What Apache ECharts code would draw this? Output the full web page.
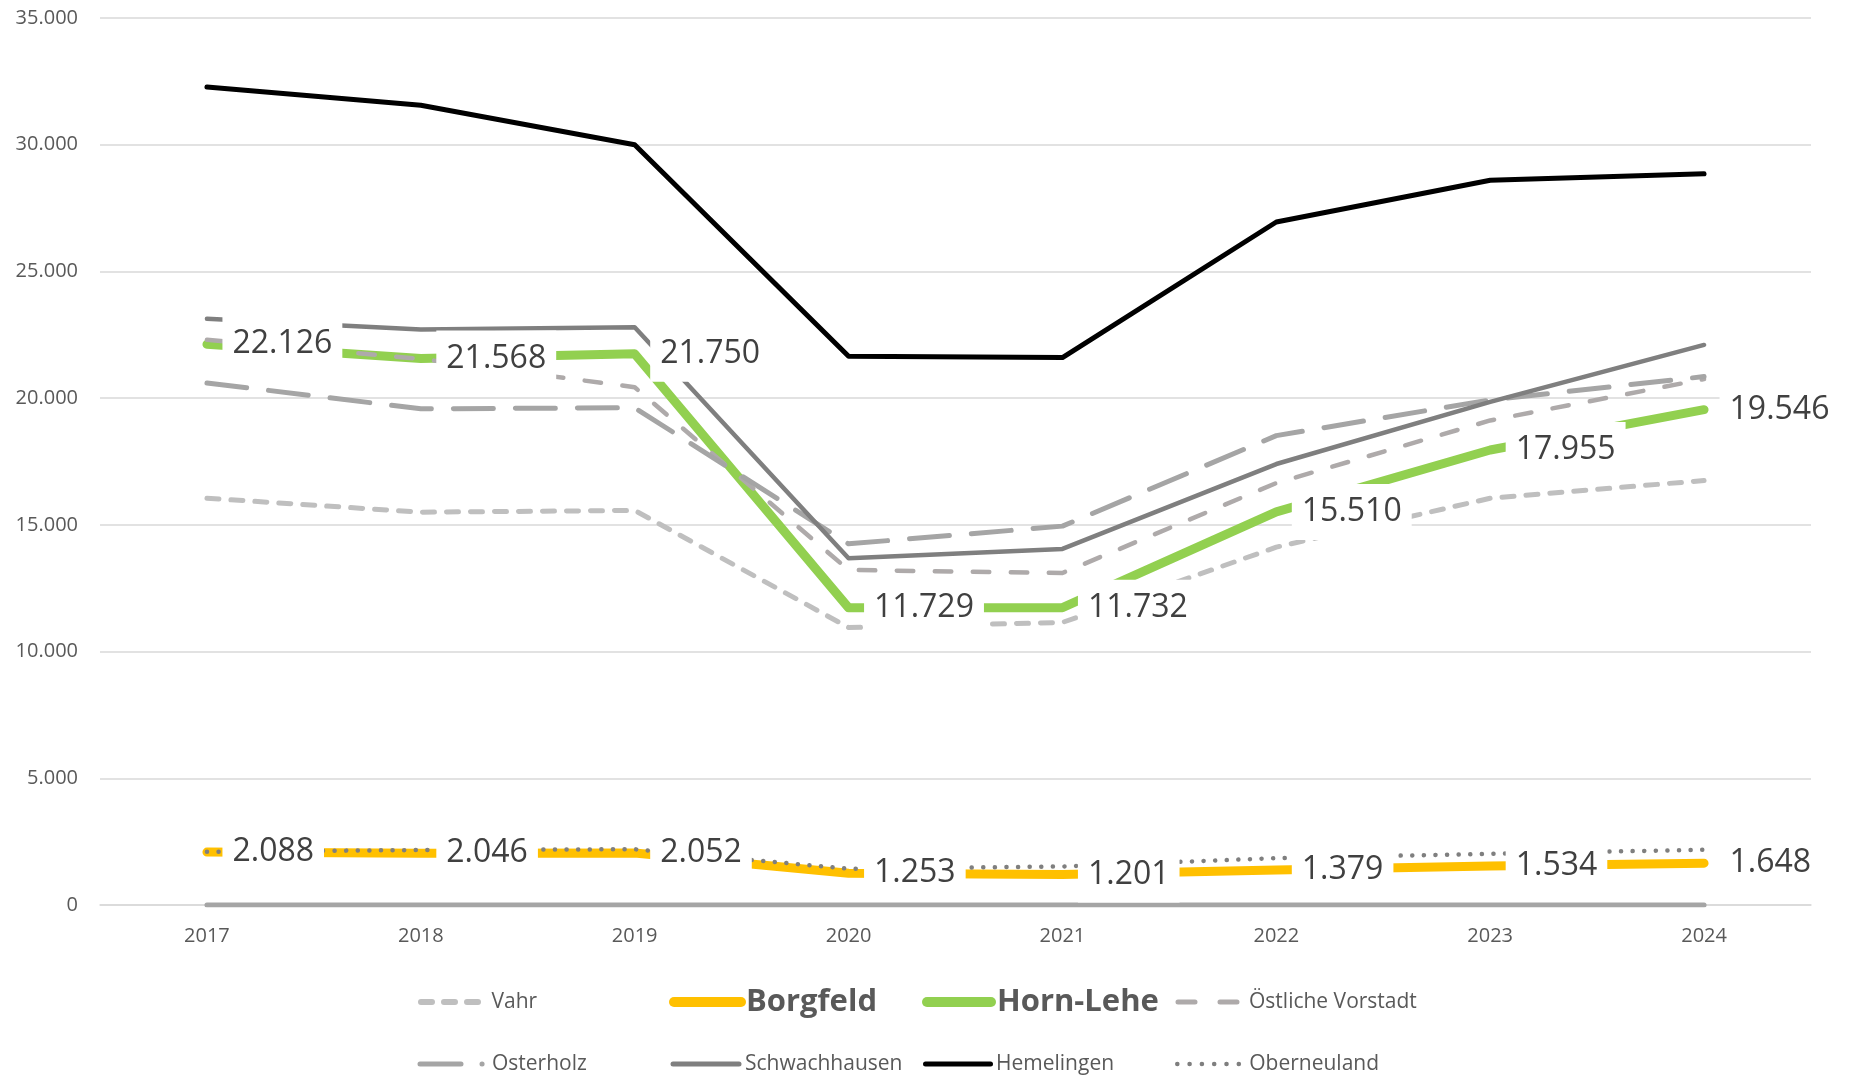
<!DOCTYPE html>
<html>
<head>
<meta charset="utf-8">
<script src="https://cdn.jsdelivr.net/npm/echarts@6/dist/echarts.min.js"></script>
<style>
html,body{margin:0;padding:0;background:#ffffff;}
#chart{width:1850px;height:1076px;}
</style>
</head>
<body>
<div id="chart"></div>
<script>
// ---------- data ----------
const years = ['2017', '2018', '2019', '2020', '2021', '2022', '2023', '2024'];
const vahr = [16050, 15500, 15570, 10950, 11150, 14120, 16050, 16750];
const borgfeld = [2088, 2046, 2052, 1253, 1201, 1379, 1534, 1648];
const hornLehe = [22126, 21568, 21750, 11729, 11732, 15510, 17955, 19546];
const oestlicheVorstadt = [22300, 21550, 20430, 13220, 13100, 16650, 19120, 20750];
const osterholz = [20600, 19580, 19620, 14250, 14950, 18520, 19930, 20850];
const schwachhausen = [23130, 22710, 22800, 13680, 14050, 17400, 19850, 22100];
const hemelingen = [32280, 31560, 30000, 21650, 21600, 26950, 28600, 28850];
const oberneuland = [2100, 2170, 2200, 1430, 1520, 1850, 2020, 2180];
const baseline = [0, 0, 0, 0, 0, 0, 0, 0];
const yMin = 0, yMax = 35000, yStep = 5000;

// ---------- helpers ----------
const FONT = "'Open Sans', 'Noto Sans', sans-serif";
function fmt(v) {
  return String(Math.round(v)).replace(/\B(?=(\d{3})+(?!\d))/g, '.');
}

function lineSeries(name, data, color, width, type, cap) {
  return {
    name: name, type: 'line', data: data,
    symbol: 'none', silent: true, animation: false,
    emphasis: { disabled: true },
    lineStyle: { color: color, width: width, type: type || 'solid', cap: cap || 'round', join: 'round' },
    itemStyle: { color: color }
  };
}

function labelSeries(name, data) {
  return {
    name: name, type: 'line', data: data, z: 10,
    silent: true, animation: false,
    emphasis: { disabled: true },
    symbol: 'circle', symbolSize: 1,
    itemStyle: { color: 'rgba(0,0,0,0)' },
    lineStyle: { width: 0, opacity: 0 },
    labelLayout: { hideOverlap: false },
    label: {
      show: true, position: 'right', distance: 15,
      formatter: function (p) { return fmt(p.value); },
      fontFamily: FONT, fontSize: 32, color: '#404040',
      backgroundColor: '#ffffff', padding: [10, 10], lineHeight: 36
    }
  };
}

function legendItem(name, left, top, itemWidth, textPad, lineStyle, textStyle) {
  return {
    data: [name], left: left, top: top, padding: 0,
    itemWidth: itemWidth, itemHeight: 14, selectedMode: false,
    itemStyle: { opacity: 0 },
    lineStyle: lineStyle,
    textStyle: Object.assign({
      fontFamily: FONT, fontSize: 21, color: '#595959', lineHeight: 30,
      padding: [0, 0, 0, textPad]
    }, textStyle || {})
  };
}

const bold = { fontSize: 31, fontWeight: 'bold', lineHeight: 40 };

// ---------- chart ----------
const chart = echarts.init(document.getElementById('chart'), null, { renderer: 'canvas' });

const option = {
  backgroundColor: '#ffffff',
  animation: false,
  grid: { left: 100, right: 39, top: 18, bottom: 171, containLabel: false },
  xAxis: {
    type: 'category', data: years, boundaryGap: true,
    axisLine: { show: true, lineStyle: { color: '#D9D9D9', width: 1.5 } },
    axisTick: { show: false },
    axisLabel: { fontFamily: FONT, fontSize: 20, color: '#595959', margin: 21, lineHeight: 20 },
    splitLine: { show: false }
  },
  yAxis: {
    type: 'value', min: yMin, max: yMax, interval: yStep,
    axisLine: { show: false }, axisTick: { show: false },
    axisLabel: { fontFamily: FONT, fontSize: 20, color: '#595959', margin: 22, formatter: fmt },
    splitLine: { lineStyle: { color: '#D9D9D9', width: 1.5 } }
  },
  legend: [
    legendItem('Vahr', 418, 987, 57, 8.5, { width: 6, type: [11, 12] }),
    legendItem('Borgfeld', 669, 982, 67, 0, { width: 10 }, bold),
    legendItem('Horn-Lehe', 922, 982, 64, 1, { width: 10 }, bold),
    legendItem('Östliche Vorstadt', 1175.5, 987, 59, 7, { width: 5, type: [17, 25] }),
    legendItem('Osterholz', 417.5, 1049, 65, 2, { width: 5, type: [41, 21, 0.1, 30] }),
    legendItem('Schwachhausen', 670.5, 1049, 66, 1, { width: 5 }),
    legendItem('Hemelingen', 923, 1049, 65, 0.5, { width: 5 }),
    legendItem('Oberneuland', 1175, 1049, 62, 5, { width: 4.5, type: [0.1, 12.2] })
  ],
  series: [
    lineSeries('Basis', baseline, '#A5A5A5', 5, 'solid', 'round'),
    lineSeries('Vahr', vahr, '#BFBFBF', 5, [12, 12], 'round'),
    lineSeries('Borgfeld', borgfeld, '#FFC000', 9, 'solid', 'round'),
    lineSeries('Horn-Lehe', hornLehe, '#92D050', 9, 'solid', 'round'),
    lineSeries('Östliche Vorstadt', oestlicheVorstadt, '#AEAAAA', 4.5, [16.5, 21.5], 'round'),
    lineSeries('Osterholz', osterholz, '#A5A5A5', 5, [40, 22], 'round'),
    lineSeries('Schwachhausen', schwachhausen, '#7F7F7F', 4.5, 'solid', 'round'),
    lineSeries('Hemelingen', hemelingen, '#000000', 5, 'solid', 'round'),
    lineSeries('Oberneuland', oberneuland, '#7F7F7F', 4.5, [0.1, 11.5], 'round'),
    labelSeries('Borgfeld-Werte', borgfeld),
    labelSeries('Horn-Lehe-Werte', hornLehe)
  ]
};

chart.setOption(option);
</script>
</body>
</html>
